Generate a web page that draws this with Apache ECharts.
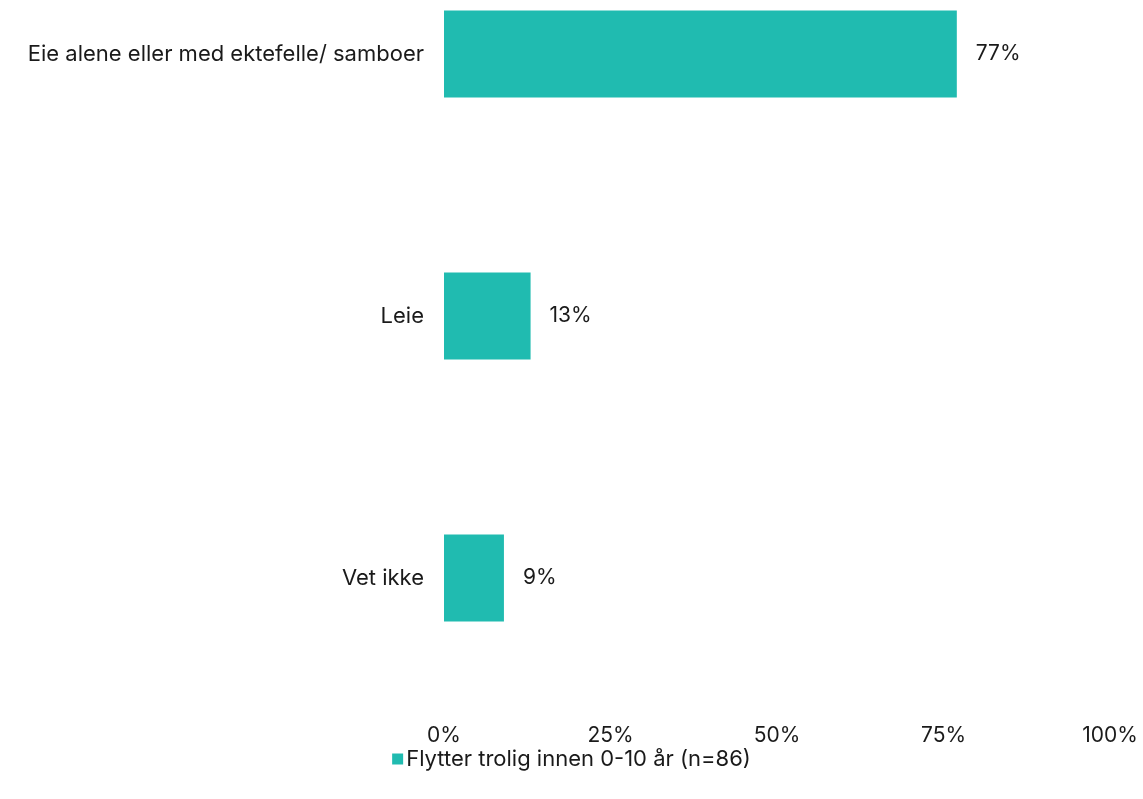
<!DOCTYPE html>
<html>
<head>
<meta charset="utf-8">
<script src="https://cdn.jsdelivr.net/npm/echarts@6/dist/echarts.min.js"></script>
<style>
  html, body { margin: 0; padding: 0; background: #fff; overflow: hidden; }
  /* chart canvas extends above the viewport so the first band is partly cut off */
  #chart { position: absolute; left: 0; top: -77px; width: 1143px; height: 876px; }
</style>
</head>
<body>
<div id="chart"></div>
<script>
// Housing preference among those likely to move within 0-10 years
const categories = ['Eie alene eller med ektefelle/ samboer', 'Leie', 'Vet ikke'];
const values = [77, 13, 9];
const seriesName = 'Flytter trolig innen 0-10 år (n=86)';
const ticks = [0, 25, 50, 75, 100];

const FONT = 'Inter, "Noto Sans", sans-serif';
const TEXT = '#1a1a1a';
const BAR = '#20BBB0';
const FS = 21;

const chart = echarts.init(document.getElementById('chart'));
chart.setOption({
  animation: false,
  textStyle: { fontFamily: FONT },
  grid: { left: 444, right: 33, top: 0, bottom: 90, containLabel: false },
  legend: {
    data: [seriesName],
    bottom: 24,
    left: 'center',
    itemWidth: 11,
    itemHeight: 11,
    itemGap: 4,
    icon: 'rect',
    textStyle: { fontFamily: FONT, fontSize: 22, color: TEXT, padding: [0, 0, 0, -2] }
  },
  xAxis: {
    type: 'value',
    min: ticks[0],
    max: ticks[ticks.length - 1],
    interval: 25,
    axisLine: { show: false },
    axisTick: { show: false },
    splitLine: { show: false },
    axisLabel: {
      formatter: v => v + '%',
      fontFamily: FONT,
      fontSize: FS,
      color: TEXT,
      margin: 16
    }
  },
  yAxis: {
    type: 'category',
    inverse: true,
    data: categories,
    axisLine: { show: false },
    axisTick: { show: false },
    axisLabel: { fontFamily: FONT, fontSize: 22, color: TEXT, margin: 20 }
  },
  series: [{
    name: seriesName,
    type: 'bar',
    data: values,
    barWidth: 87,
    itemStyle: { color: BAR },
    label: {
      show: true,
      position: 'right',
      distance: 19,
      formatter: p => p.value + '%',
      fontFamily: FONT,
      fontSize: FS,
      color: TEXT
    }
  }]
});
</script>
</body>
</html>
